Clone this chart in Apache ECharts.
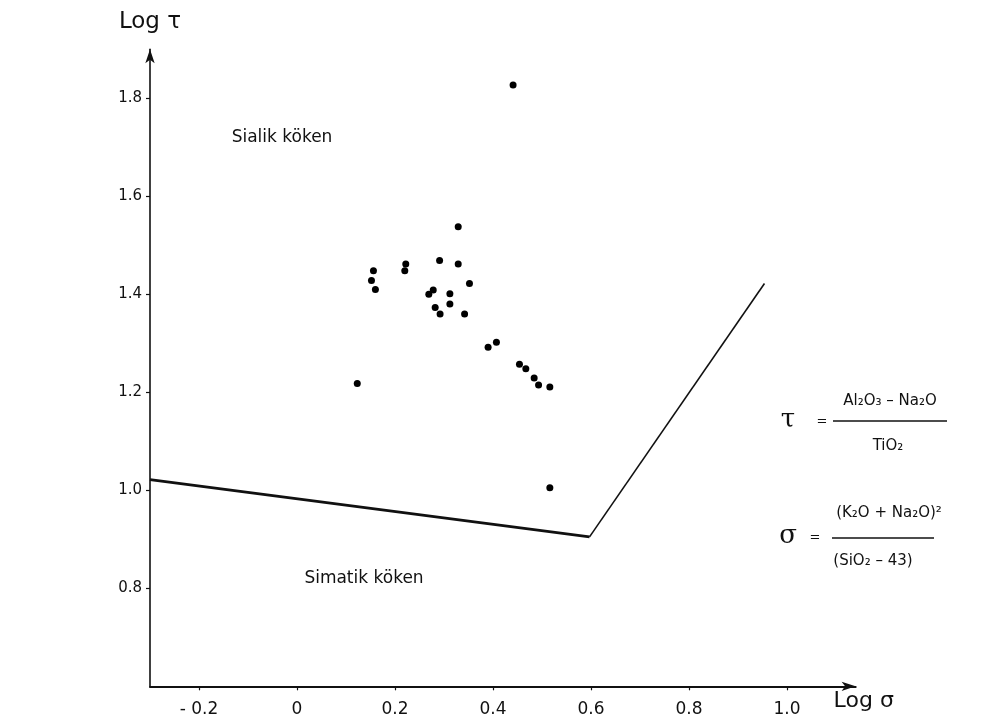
<!DOCTYPE html>
<html>
<head>
<meta charset="utf-8">
<script src="https://cdn.jsdelivr.net/npm/echarts@6/dist/echarts.min.js"></script>
<style>
  html, body { margin: 0; padding: 0; background: #fff; }
  #chart { width: 1008px; height: 728px; }
</style>
</head>
<body>
<div id="chart"></div>
<script>
// ---- data ----
const samplePoints = [
  [0.329, 1.538], [0.156, 1.448], [0.152, 1.428], [0.160, 1.410],
  [0.222, 1.462], [0.220, 1.448], [0.291, 1.469], [0.329, 1.462],
  [0.352, 1.422], [0.269, 1.400], [0.278, 1.409], [0.312, 1.401],
  [0.282, 1.373], [0.292, 1.360], [0.312, 1.380], [0.342, 1.360],
  [0.390, 1.292], [0.407, 1.302], [0.454, 1.257], [0.467, 1.248],
  [0.484, 1.229], [0.493, 1.215], [0.516, 1.211], [0.123, 1.218],
  [0.516, 1.005], [0.441, 1.827]
];
const lowerBoundary = [[-0.3, 1.022], [0.597, 0.905]];
const upperBoundary = [[0.597, 0.905], [0.954, 1.422]];
const xTickValues = [-0.2, 0, 0.2, 0.4, 0.6, 0.8, 1.0];
const xTickLabels = ['- 0.2', '0', '0.2', '0.4', '0.6', '0.8', '1.0'];
const yTickValues = [0.8, 1.0, 1.2, 1.4, 1.6, 1.8];
const yTickLabels = ['0.8', '1.0', '1.2', '1.4', '1.6', '1.8'];
const xAxisName = 'Log σ';
const yAxisName = 'Log τ';
const regionLabels = ['Sialik köken', 'Simatik köken'];
const tauFormula = ['τ', 'Al₂O₃ – Na₂O', 'TiO₂'];
const sigmaFormula = ['σ', '(K₂O + Na₂O)²', '(SiO₂ – 43)'];

function lookup(vals, labels, v) {
  for (let i = 0; i < vals.length; i++) {
    if (Math.abs(vals[i] - v) < 1e-9) return labels[i];
  }
  return '';
}

const INK = '#111';
const FONT = "'DejaVu Sans', sans-serif";

const chart = echarts.init(document.getElementById('chart'), null, { renderer: 'canvas' });

const option = {
  backgroundColor: '#fff',
  animation: false,
  grid: { left: 150, right: 152.4, top: 49.3, bottom: 41.7 },
  xAxis: {
    type: 'value',
    min: -0.3, max: 1.14,
    name: xAxisName,
    nameLocation: 'end',
    nameGap: -22,
    nameTextStyle: { color: INK, fontFamily: FONT, fontSize: 22, verticalAlign: 'top', align: 'left', padding: [4, 0, 0, 0] },
    splitLine: { show: false },
    axisLine: { show: true, onZero: false, lineStyle: { color: INK, width: 2.2 }, symbol: ['none', 'arrow'], symbolSize: [7, 14] },
    axisTick: { show: true, length: 4, lineStyle: { color: INK, width: 1.2 }, customValues: xTickValues },
    axisLabel: {
      color: INK, fontFamily: FONT, fontSize: 17, margin: 15,
      customValues: xTickValues,
      formatter: v => lookup(xTickValues, xTickLabels, v)
    }
  },
  yAxis: {
    type: 'value',
    min: 0.6, max: 1.9,
    name: yAxisName,
    nameLocation: 'end',
    nameGap: 16,
    nameTextStyle: { color: INK, fontFamily: FONT, fontSize: 23, align: 'center' },
    splitLine: { show: false },
    axisLine: { show: true, onZero: false, lineStyle: { color: INK, width: 1.6 }, symbol: ['none', 'arrow'], symbolSize: [7, 14] },
    axisTick: { show: true, length: 4, lineStyle: { color: INK, width: 1.2 }, customValues: yTickValues },
    axisLabel: {
      color: INK, fontFamily: FONT, fontSize: 15, margin: 8,
      customValues: yTickValues,
      formatter: v => lookup(yTickValues, yTickLabels, v)
    }
  },
  series: [
    {
      type: 'line', data: lowerBoundary, symbol: 'none',
      lineStyle: { color: INK, width: 2.8 }, z: 3
    },
    {
      type: 'line', data: upperBoundary, symbol: 'none',
      lineStyle: { color: INK, width: 1.6 }, z: 3
    },
    {
      type: 'scatter', data: samplePoints, symbol: 'circle', symbolSize: 7,
      itemStyle: { color: '#000', opacity: 1 }, z: 4
    }
  ],
  graphic: [
    { type: 'text', x: 282, y: 138, style: { text: regionLabels[0], font: "17px 'DejaVu Sans', sans-serif", fill: INK, textAlign: 'center', textVerticalAlign: 'middle' } },
    { type: 'text', x: 364, y: 579, style: { text: regionLabels[1], font: "17px 'DejaVu Sans', sans-serif", fill: INK, textAlign: 'center', textVerticalAlign: 'middle' } },

    // tau formula
    { type: 'text', x: 788, y: 420, style: { text: tauFormula[0], font: "26px 'DejaVu Serif', serif", fill: INK, textAlign: 'center', textVerticalAlign: 'middle' } },
    { type: 'text', x: 822, y: 422, style: { text: '=', font: "13px 'DejaVu Sans', sans-serif", fill: INK, textAlign: 'center', textVerticalAlign: 'middle' } },
    { type: 'text', x: 890, y: 401, style: { text: tauFormula[1], font: "15px 'DejaVu Sans', sans-serif", fill: INK, textAlign: 'center', textVerticalAlign: 'middle' } },
    { type: 'line', shape: { x1: 833, y1: 421, x2: 947, y2: 421 }, style: { stroke: INK, lineWidth: 1.6 } },
    { type: 'text', x: 888, y: 446, style: { text: tauFormula[2], font: "15px 'DejaVu Sans', sans-serif", fill: INK, textAlign: 'center', textVerticalAlign: 'middle' } },

    // sigma formula
    { type: 'text', x: 788, y: 536, style: { text: sigmaFormula[0], font: "26px 'DejaVu Serif', serif", fill: INK, textAlign: 'center', textVerticalAlign: 'middle' } },
    { type: 'text', x: 815, y: 538, style: { text: '=', font: "13px 'DejaVu Sans', sans-serif", fill: INK, textAlign: 'center', textVerticalAlign: 'middle' } },
    { type: 'text', x: 889, y: 513, style: { text: sigmaFormula[1], font: "15px 'DejaVu Sans', sans-serif", fill: INK, textAlign: 'center', textVerticalAlign: 'middle' } },
    { type: 'line', shape: { x1: 832, y1: 538, x2: 934, y2: 538 }, style: { stroke: INK, lineWidth: 1.6 } },
    { type: 'text', x: 873, y: 561, style: { text: sigmaFormula[2], font: "15px 'DejaVu Sans', sans-serif", fill: INK, textAlign: 'center', textVerticalAlign: 'middle' } }
  ]
};

chart.setOption(option);
</script>
</body>
</html>
